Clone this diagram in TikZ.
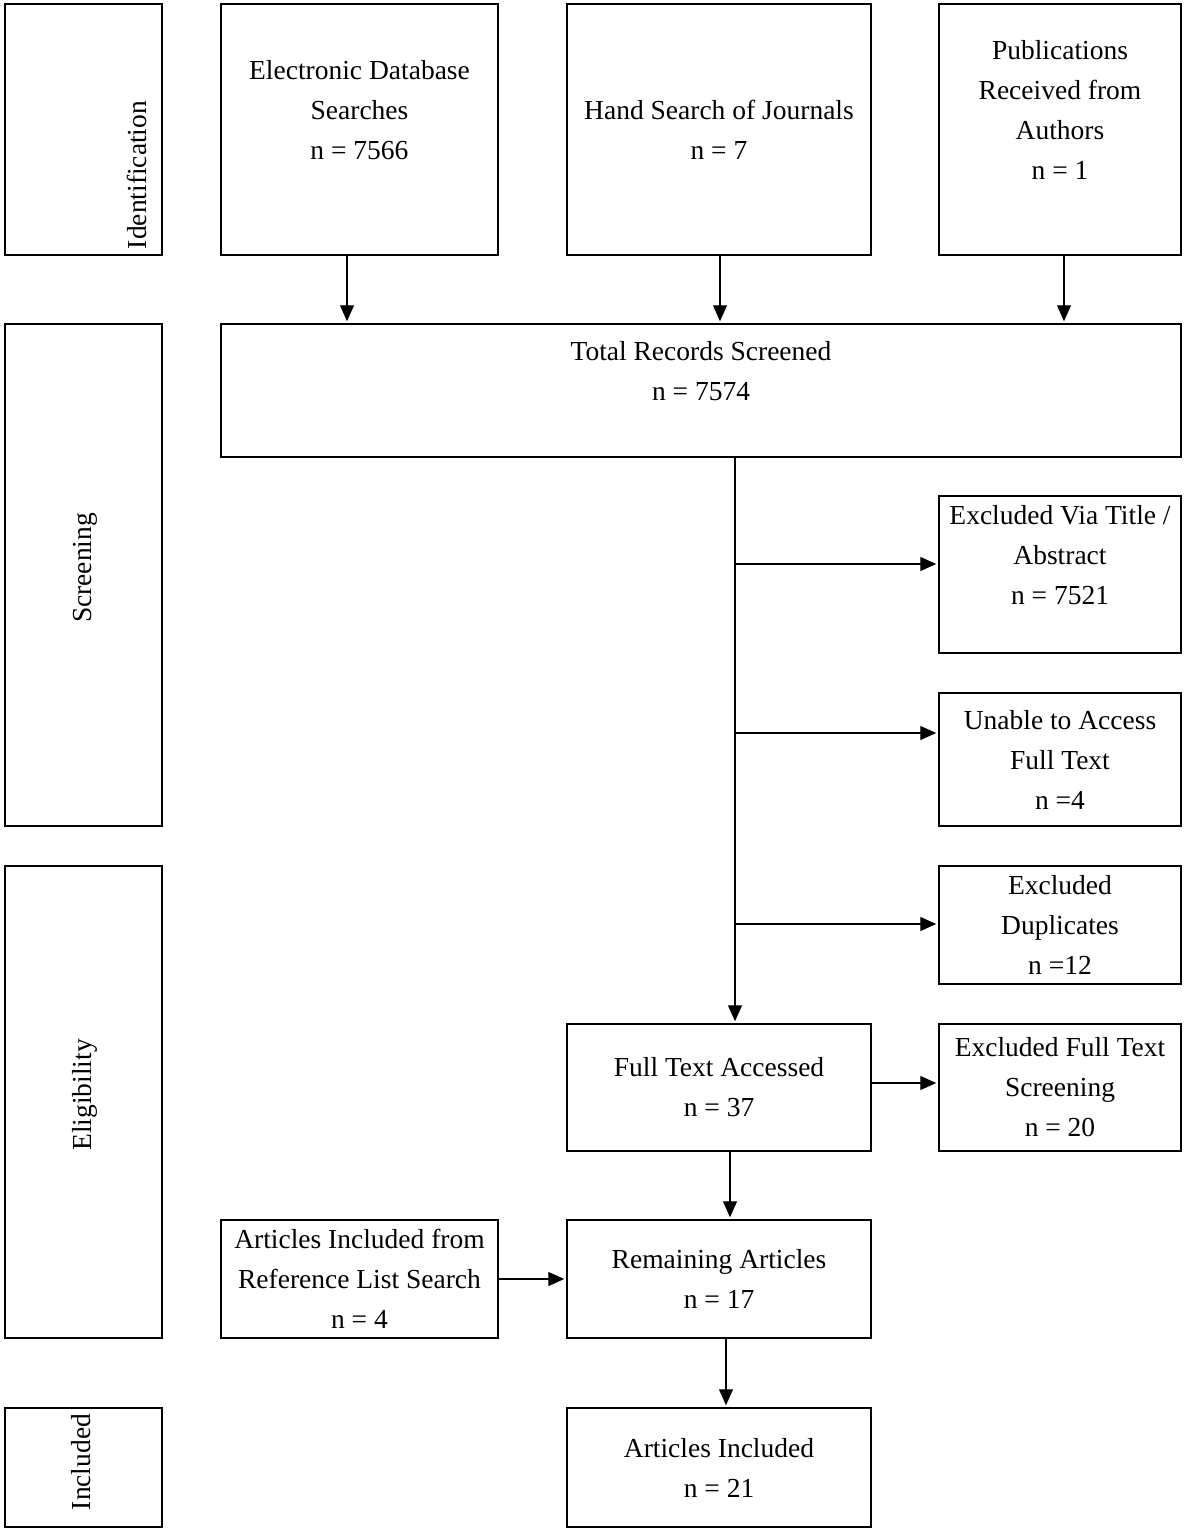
\documentclass[tikz,border=0pt]{standalone}
\usepackage{fontspec}
\setmainfont{Liberation Serif}
\usetikzlibrary{arrows.meta, positioning}

\begin{document}
\begin{tikzpicture}[x=1pt, y=-1pt, font=\fontsize{27.5}{40}\selectfont]
    \tikzstyle{process} = [rectangle, draw=black, line width=1.5pt, inner sep=0pt, align=center]
    \tikzstyle{phase} = [rectangle, draw=black, line width=1.5pt, minimum width=157pt]
    \tikzstyle{phasename} = [rotate=90, inner sep=0pt]
    \tikzstyle{arrow} = [line width=1.3pt, ->, >={Triangle[length=16pt, width=14pt]}, shorten >=2pt]

    \useasboundingbox (0,0) rectangle (1184,1531);

    % phases on the left
    \node (idbox) [phase, minimum height=251pt] at (83.5,129.5) {};
    \node (scrbox) [phase, minimum height=502pt] at (83.5,575) {};
    \node (eligbox) [phase, minimum height=472pt] at (83.5,1102) {};
    \node (inclbox) [phase, minimum height=119pt] at (83.5,1467.5) {};
    \node (idname) [phasename] at (137,175) {Identification};
    \node (scrname) [phasename] at (85,568) {Screening};
    \node (eligname) [phasename] at (85,1095) {Eligibility};
    \node (inclname) [phasename] at (81,1462) {Included};

    % identification
    \node (edb) [process, minimum width=277pt, minimum height=251pt] at (359.5,129.5) {Electronic Database\\ Searches\\ n = 7566\\ \mbox{}};
    \node (hand) [process, minimum width=304pt, minimum height=251pt] at (719,129.5) {Hand Search of Journals\\ n = 7};
    \node (pub) [process, minimum width=242pt, minimum height=251pt] at (1060,129.5) {Publications\\ Received from\\ Authors\\ n = 1\\ \mbox{}};

    % screening
    \node (total) [process, minimum width=960pt, minimum height=133pt] at (701,390.5) {Total Records Screened\\ n = 7574\\ \mbox{}};
    \node (exta) [process, minimum width=242pt, minimum height=157pt] at (1060,574.5) {Excluded Via Title /\\ Abstract\\ n = 7521\\ \mbox{}};
    \node (unable) [process, minimum width=242pt, minimum height=133pt] at (1060,759.5) {Unable to Access\\ Full Text\\ n =4};
    \node (dup) [process, minimum width=242pt, minimum height=118pt] at (1060,925) {Excluded\\ Duplicates\\ n =12};

    % eligibility
    \node (fta) [process, minimum width=304pt, minimum height=127pt] at (719,1087.5) {Full Text Accessed\\ n = 37};
    \node (eft) [process, minimum width=242pt, minimum height=127pt] at (1060,1087.5) {Excluded Full Text\\ Screening\\ n = 20};
    \node (ref) [process, minimum width=277pt, minimum height=118pt] at (359.5,1279) {Articles Included from\\ Reference List Search\\ n = 4};
    \node (rem) [process, minimum width=304pt, minimum height=118pt] at (719,1279) {Remaining Articles\\ n = 17};

    % included
    \node (incl) [process, minimum width=304pt, minimum height=119pt] at (719,1467.5) {Articles Included\\ n = 21};

    % where the lines run
    \coordinate (x1) at (347,0);
    \coordinate (x2) at (720,0);
    \coordinate (x3) at (1064,0);
    \coordinate (spine) at (735,0);
    \coordinate (b1) at (735,564);
    \coordinate (b2) at (735,733);
    \coordinate (b3) at (735,924);
    \coordinate (b4) at (871,1083);
    \coordinate (x4) at (730,0);
    \coordinate (x5) at (726,0);

    \draw [arrow] (edb.south -| x1) -- (total.north -| x1);
    \draw [arrow] (hand.south -| x2) -- (total.north -| x2);
    \draw [arrow] (pub.south -| x3) -- (total.north -| x3);
    \draw [arrow] (total.south -| spine) -- (fta.north -| spine);
    \draw [arrow] (b1) -- (b1 -| exta.west);
    \draw [arrow] (b2) -- (b2 -| unable.west);
    \draw [arrow] (b3) -- (b3 -| dup.west);
    \draw [arrow] (b4) -- (b4 -| eft.west);
    \draw [arrow] (fta.south -| x4) -- (rem.north -| x4);
    \draw [arrow] (ref) -- (rem);
    \draw [arrow] (rem.south -| x5) -- (incl.north -| x5);
\end{tikzpicture}
\end{document}
